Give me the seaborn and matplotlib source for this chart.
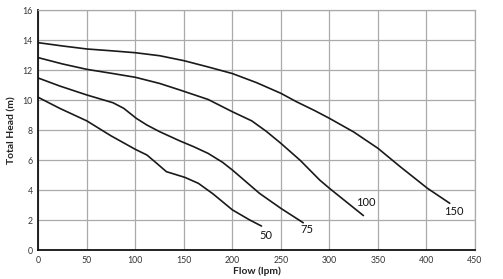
import matplotlib
matplotlib.use("Agg")
import matplotlib.pyplot as plt
import seaborn as sns
import pandas as pd

# Pump curves (flow lpm, total head m)
flow_150 = [0, 25, 50, 75, 100, 125, 150, 175, 200, 225, 250, 266, 285, 300, 325, 350, 373, 401, 424]
head_150 = [13.84, 13.62, 13.42, 13.3, 13.17, 12.97, 12.64, 12.22, 11.78, 11.17, 10.46, 9.9, 9.3, 8.79, 7.88, 6.79, 5.56, 4.12, 3.12]

flow_100 = [0, 25, 50, 75, 100, 125, 146, 175, 200, 220, 235, 250, 270, 290, 300, 335]
head_100 = [12.84, 12.42, 12.06, 11.8, 11.53, 11.12, 10.68, 10.05, 9.23, 8.62, 7.92, 7.12, 5.98, 4.67, 4.12, 2.3]

flow_75 = [0, 22, 50, 77, 88, 101, 112, 125, 146, 160, 175, 190, 200, 228, 250, 273]
head_75 = [11.48, 10.95, 10.35, 9.83, 9.46, 8.79, 8.34, 7.9, 7.28, 6.9, 6.45, 5.85, 5.34, 3.78, 2.78, 1.82]

flow_50 = [0, 22, 50, 75, 100, 112, 122, 132, 151, 165, 180, 200, 218, 230]
head_50 = [10.19, 9.46, 8.62, 7.62, 6.72, 6.34, 5.79, 5.23, 4.85, 4.45, 3.75, 2.68, 2.0, 1.6]

curve_names = ["50", "75", "100", "150"]
label_x = [234, 277, 337, 428]
label_y = [1.0, 1.34, 3.14, 2.58]

x_ticks = [0, 50, 100, 150, 200, 250, 300, 350, 400, 450]
y_ticks = [0, 2, 4, 6, 8, 10, 12, 14, 16]

frames = []
for name, fx, hy in [("50", flow_50, head_50), ("75", flow_75, head_75),
                     ("100", flow_100, head_100), ("150", flow_150, head_150)]:
    frames.append(pd.DataFrame({"flow": fx, "head": hy, "curve": name}))
df = pd.concat(frames, ignore_index=True)

sns.set_style("white")
plt.rcParams["font.family"] = ["Lato", "DejaVu Sans"]

fig = plt.figure(figsize=(5.03, 2.79), dpi=100)
ax = fig.add_axes([0.0761, 0.1039, 0.8682, 0.8591])

sns.lineplot(data=df, x="flow", y="head", hue="curve", units="curve",
             estimator=None, sort=False, palette={n: "#1a1a1a" for n in curve_names},
             linewidth=1.2, legend=False, ax=ax)

ax.set_xlim(0, 450)
ax.set_ylim(0, 16)
ax.set_xticks(x_ticks)
ax.set_yticks(y_ticks)
ax.set_xticklabels([str(v) for v in x_ticks], fontsize=6.3, color="#333333")
ax.set_yticklabels([str(v) for v in y_ticks], fontsize=6.3, color="#333333")
ax.tick_params(axis="both", length=2.5, width=0.8, pad=1.5, color="#111111")
ax.grid(True, color="#aaaaaa", linewidth=0.9)
ax.set_axisbelow(True)

for s in ["top", "right"]:
    ax.spines[s].set_color("#aaaaaa")
    ax.spines[s].set_linewidth(0.9)
for s in ["left", "bottom"]:
    ax.spines[s].set_color("#111111")
    ax.spines[s].set_linewidth(1.3)

ax.set_xlabel("Flow (lpm)", fontsize=7.4, fontweight="bold", color="#222222", labelpad=1)
ax.set_ylabel("Total Head (m)", fontsize=7.4, fontweight="bold", color="#222222", labelpad=4)

for name, lx, ly in zip(curve_names, label_x, label_y):
    ax.text(lx, ly, name, fontsize=8, ha="center", va="center", color="#111111")

fig.savefig("out.png", dpi=100)
